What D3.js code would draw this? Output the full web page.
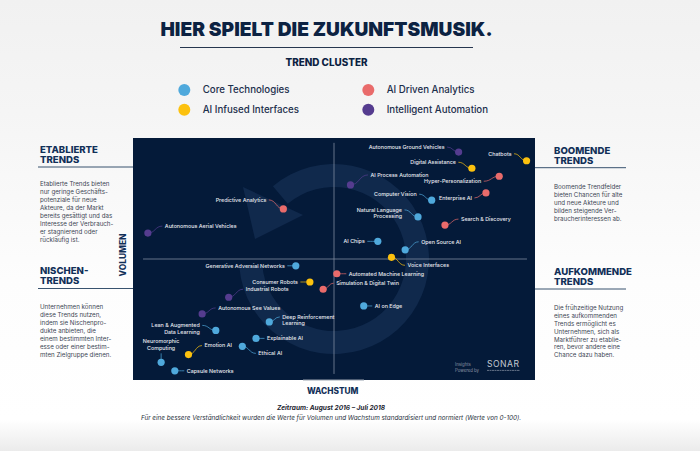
<!DOCTYPE html>
<html><head><meta charset="utf-8">
<script src="https://cdn.jsdelivr.net/npm/d3@7"></script>
<style>
html,body{margin:0;padding:0;background:#fff}
svg{display:block}
text{font-family:Inter,"Noto Sans",sans-serif}
</style></head><body><svg id="c" width="700" height="451"></svg>
<script>
// ---- data ----
const titleText = "HIER SPIELT DIE ZUKUNFTSMUSIK.";
const legendTitle = "TREND CLUSTER";
const clusters = ["Core Technologies","AI Infused Interfaces","AI Driven Analytics","Intelligent Automation"];
const clusterColors = ["#4fa9dc","#fcc10e","#e96b6b","#553c8f"];
const trends = ["Predictive Analytics","Autonomous Aerial Vehicles","Autonomous Ground Vehicles","Digital Assistance","Chatbots","AI Process Automation","Hyper-Personalization","Computer Vision","Enterprise AI","Natural Language\nProcessing","Search & Discovery","AI Chips","Open Source AI","Voice Interfaces","Automated Machine Learning","Simulation & Digital Twin","AI on Edge","Generative Adversial Networks","Consumer Robots","Industrial Robots","Autonomous See Values","Deep Reinforcement\nLearning","Lean & Augmented\nData Learning","Explainable AI","Emotion AI","Ethical AI","Neuromorphic\nComputing","Capsule Networks"];
const growth = [37.4,3.7,81.0,84.3,97.9,54.1,91.1,74.3,87.8,70.9,77.6,60.9,67.7,64.3,50.7,47.3,57.4,40.5,44.0,23.8,17.2,33.9,20.6,30.6,13.8,27.2,7.0,10.4];
const volume = [70.7,60.7,94.2,87.5,90.6,80.6,84.2,74.3,77.3,67.4,64.0,57.3,53.8,50.7,43.9,37.5,30.6,47.2,40.5,34.2,27.3,24.0,20.5,17.2,10.5,13.9,7.3,3.8];
const clusterOf = [2,3,3,1,1,3,2,0,2,0,2,0,0,1,2,2,0,0,1,3,3,0,0,0,1,0,0,0];
const sideNotes = [
 {h:["ETABLIERTE","TRENDS"],b:["Etablierte Trends bieten","nur geringe Geschäfts-","potenziale für neue","Akteure, da der Markt","bereits gesättigt und das","Interesse der Verbrauch-","er stagnierend oder","rückläufig ist."]},
 {h:["NISCHEN-","TRENDS"],b:["Unternehmen können","diese Trends nutzen,","indem sie Nischenpro-","dukte anbieten, die","einem bestimmten Inter-","esse oder einer bestim-","mten Zielgruppe dienen."]},
 {h:["BOOMENDE","TRENDS"],b:["Boomende Trendfelder","bieten Chancen für alte","und neue Akteure und","bilden steigende Ver-","braucherinteressen ab."]},
 {h:["AUFKOMMENDE","TRENDS"],b:["Die frühzeitige Nutzung","eines aufkommenden","Trends ermöglicht es","Unternehmen, sich als","Marktführer zu etablie-","ren, bevor andere eine","Chance dazu haben."]}
];
const axisX = "WACHSTUM", axisY = "VOLUMEN";
const footer = ["Zeitraum: August 2016 – Juli 2018","Für eine bessere Verständlichkeit wurden die Werte für Volumen und Wachstum standardisiert und normiert (Werte von 0-100)."];

// ---- layout (label anchor relative to its dot: dx, dy, text-anchor) ----
const labelLayout = [
 [-17,-9,"end"],[17,-7,"start"],[-14,-5,"end"],[-16,-6,"end"],[-15,-7,"end"],[20,-10,"start"],[-18,5,"end"],[-15,-6,"end"],[-14,5,"end"],[-16,-7,"end"],[16,-6,"start"],[-13,0,"end"],[16,-8,"start"],[16,8,"start"],[12,0,"start"],[13,-6,"start"],[11,0,"start"],[-11,0,"end"],[-12,0,"end"],[17,-8,"start"],[16,-6,"start"],[13,-5,"start"],[-16,-5,"end"],[11,0,"start"],[16,-9,"start"],[16,7,"start"],[0,-21,"middle"],[12,0,"start"]
];
const W=700,H=451, box={x0:133,x1:535,y0:138,y1:380};
const svg=d3.select("#c");
const defs=svg.append("defs");
const g=defs.append("linearGradient").attr("id","bg").attr("x1",0).attr("x2",0).attr("y1",0).attr("y2",1);
[[0,"#f1f1f1"],[0.25,"#f5f5f5"],[0.62,"#fdfdfd"],[0.93,"#ffffff"],[1,"#ebebeb"]].forEach(s=>g.append("stop").attr("offset",s[0]).attr("stop-color",s[1]));
svg.append("rect").attr("width",W).attr("height",H).attr("fill","url(#bg)");

const x=d3.scaleLinear().domain([0,100]).range([box.x0,box.x1]);
const y=d3.scaleLinear().domain([0,100]).range([box.y1,box.y0]);

// title
svg.append("text").text(titleText).attr("x",326.5).attr("y",36.3).attr("text-anchor","middle").attr("font-size",19.2).attr("font-weight",900).attr("fill","#0c2242");
svg.append("line").attr("x1",180).attr("x2",473).attr("y1",47.5).attr("y2",47.5).attr("stroke","#26364f").attr("stroke-width",1);
svg.append("text").text(legendTitle).attr("x",326.5).attr("y",65.8).attr("text-anchor","middle").attr("font-size",9.9).attr("font-weight",800).attr("fill","#0c2242");

// legend
const lx=[184.3,184.3,368.3,368.3], ly=[90,109.7,90,109.7];
clusters.forEach((c,i)=>{
  svg.append("circle").attr("cx",lx[i]).attr("cy",ly[i]).attr("r",6).attr("fill",clusterColors[i]);
  svg.append("text").text(c).attr("x",lx[i]+18.4).attr("y",ly[i]+3.4).attr("font-size",9.7).attr("font-weight",500).attr("fill","#1c2f4c");
});

// plot
svg.append("rect").attr("x",box.x0).attr("y",box.y0).attr("width",box.x1-box.x0).attr("height",box.y1-box.y0).attr("fill","#041a39");
const cx=x(50), cy=y(50);
svg.append("path").attr("transform",`translate(${cx},${cy})`)
  .attr("d",d3.arc().innerRadius(72).outerRadius(95).startAngle(-40*Math.PI/180).endAngle(265*Math.PI/180)())
  .attr("fill","#10294c");
svg.append("path").attr("d",d3.line()([[243,187],[303,215],[255,239]])+"Z").attr("fill","#10294c");
svg.append("line").attr("x1",x(2.5)).attr("x2",x(98)).attr("y1",cy).attr("y2",cy).attr("stroke","#7e8ba0").attr("stroke-width",.8);
svg.append("line").attr("x1",cx).attr("x2",cx).attr("y1",y(98)).attr("y2",y(2.5)).attr("stroke","#7e8ba0").attr("stroke-width",.8);
svg.append("line").attr("x1",303).attr("x2",364).attr("y1",380).attr("y2",380).attr("stroke","#9aa3b0").attr("stroke-width",1);

// leaders, dots, labels
const leader=d3.line().curve(d3.curveBumpX);
trends.forEach((t,i)=>{
  const px=x(growth[i]),py=y(volume[i]);
  const [dx,dy,a]=labelLayout[i];
  const lines=t.split("\n");
  const tx=px+dx, ty=py+dy;
  const sign=a==="end"?-1:1;
  if(a==="middle"){
    svg.append("line").attr("x1",px).attr("x2",px).attr("y1",py).attr("y2",py-9).attr("stroke",clusterColors[clusterOf[i]]).attr("stroke-width",.7);
  } else {
    svg.append("path").attr("d",leader([[px,py],[tx-sign*2.5,ty]])).attr("fill","none").attr("stroke",clusterColors[clusterOf[i]]).attr("stroke-width",.7);
  }
  const te=svg.append("text").attr("text-anchor",a).attr("font-size",5.35).attr("font-weight",500).attr("fill","#e6e9ef");
  lines.forEach((l,k)=>te.append("tspan").attr("x",tx).attr("y",ty+1.8+k*6.7).text(l));
  svg.append("circle").attr("cx",px).attr("cy",py).attr("r",3.6).attr("fill",clusterColors[clusterOf[i]]);
});

// side notes
const notePos=[{x:40,h:[153,163.2],r:[38,133,167],b:183.7,s:8.1},{x:40,h:[274,284],r:[38,133,288.5],b:306.7,s:8.1},{x:554,h:[154.2,164.2],r:[535,626,167.7],b:186.7,s:8.1},{x:554,h:[274.5,284.5],r:[535,626,289],b:307.7,s:7.95}];
sideNotes.forEach((n,i)=>{
  const p=notePos[i];
  n.h.forEach((l,k)=>svg.append("text").text(l).attr("x",p.x).attr("y",p.h[k]).attr("font-size",9.6).attr("font-weight",800).attr("fill","#123058"));
  svg.append("line").attr("x1",p.r[0]).attr("x2",p.r[1]).attr("y1",p.r[2]).attr("y2",p.r[2]).attr("stroke","#23405f").attr("stroke-width",.9);
  n.b.forEach((l,k)=>svg.append("text").text(l).attr("x",p.x).attr("y",p.b+2+k*p.s).attr("font-size",6.2).attr("fill","#3d4654"));
});

// axis titles
svg.append("text").text(axisX).attr("x",332.7).attr("y",394).attr("text-anchor","middle").attr("font-size",8.3).attr("font-weight",800).attr("fill","#123058");
svg.append("text").text(axisY).attr("transform","translate(125.5,255) rotate(-90)").attr("text-anchor","middle").attr("font-size",8.4).attr("font-weight",800).attr("fill","#123058");

// footer
svg.append("text").text(footer[0]).attr("x",331).attr("y",410.3).attr("text-anchor","middle").attr("font-size",6.55).attr("font-weight",700).attr("font-style","italic").attr("fill","#1c2430");
svg.append("text").text(footer[1]).attr("x",331).attr("y",419.9).attr("text-anchor","middle").attr("font-size",6.33).attr("font-style","italic").attr("fill","#2a3340");

// brand
const brandGrey="#8d97a6";
svg.append("text").text("Insights").attr("x",455).attr("y",365.8).attr("font-size",4.3).attr("fill",brandGrey);
svg.append("text").text("Powered by").attr("x",455).attr("y",371.5).attr("font-size",4.3).attr("fill",brandGrey);
svg.append("text").text("SONAR").attr("x",487).attr("y",366.6).attr("font-size",8.6).attr("letter-spacing",.5).attr("fill","#c3c9d2");
svg.append("line").attr("x1",487).attr("x2",520).attr("y1",370.4).attr("y2",370.4).attr("stroke","#6f7c90").attr("stroke-width",.9).attr("stroke-dasharray","2 .5");
</script></body></html>
